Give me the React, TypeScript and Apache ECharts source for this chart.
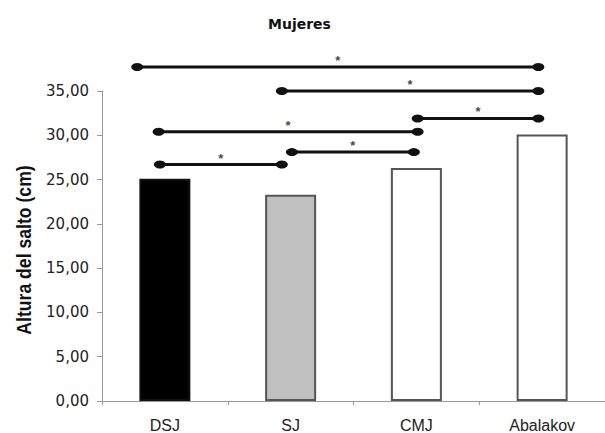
import React, { useEffect, useRef } from "react";
import * as echarts from "echarts";

const categories = ["DSJ", "SJ", "CMJ", "Abalakov"];
const values = [25.1, 23.3, 26.3, 30.1];
const barFills = ["#000000", "#c0c0c0", "#ffffff", "#ffffff"];
const barBorders = ["#111111", "#555555", "#555555", "#555555"];
const yTicks = [0, 5, 10, 15, 20, 25, 30, 35];
const yAxisTitle = "Altura del salto (cm)";
const chartTitle = "Mujeres";
// brackets: [xStart, xEnd, y] in category units / value units
const brackets: [number, number, number][] = [
  [-0.22, 2.97, 37.7],
  [0.93, 2.97, 35.0],
  [2.01, 2.97, 31.9],
  [-0.05, 2.01, 30.4],
  [1.01, 1.98, 28.1],
  [-0.04, 0.93, 26.7],
];

export default function App() {
  const ref = useRef<HTMLDivElement>(null);
  useEffect(() => {
    if (!ref.current) return;
    const chart = echarts.init(ref.current, null, { renderer: "svg" });
    const bracketSeries = brackets.map((b) => ({
      type: "line",
      xAxisIndex: 1,
      data: [
        [b[0], b[2]],
        [b[1], b[2]],
      ],
      symbol: "circle",
      symbolSize: [12, 8],
      clip: false,
      itemStyle: { color: "#111" },
      lineStyle: { color: "#111", width: 3 },
      z: 5,
    }));
    chart.setOption({
      animation: false,
      title: {
        text: chartTitle,
        left: 263,
        top: 12,
        textStyle: { fontFamily: "DejaVu Sans", fontSize: 14, fontWeight: "bold", color: "#111" },
      },
      graphic: [
        {
          type: "text",
          x: 23,
          y: 250,
          rotation: Math.PI / 2,
          scaleX: 0.84,
          style: {
            text: yAxisTitle,
            fontFamily: "Liberation Sans, Arial",
            fontSize: 21,
            fontWeight: "bold",
            fill: "#111",
            align: "center",
            verticalAlign: "middle",
          },
        },
      ],
      grid: { left: 102, right: -10, top: 91, bottom: 29 },
      xAxis: [
        {
          type: "category",
          data: categories,
          axisLine: { lineStyle: { color: "#999", width: 1 } },
          axisTick: { show: true, length: 4, lineStyle: { color: "#999" } },
          axisLabel: { fontFamily: "Liberation Sans, Arial", fontSize: 16, color: "#222", margin: 16 },
        },
        { type: "value", min: -0.5, max: 3.5, show: false },
      ],
      yAxis: {
        type: "value",
        min: 0,
        max: 35,
        interval: 5,
        axisLine: { show: true, onZero: false, lineStyle: { color: "#999", width: 1 } },
        axisTick: { show: true, length: 5, lineStyle: { color: "#999" } },
        splitLine: { show: false },
        axisLabel: {
          fontFamily: "DejaVu Sans",
          fontSize: 15,
          color: "#222",
          margin: 13,
          formatter: (v: number) => (yTicks.includes(v) ? v.toFixed(2).replace(".", ",") : ""),
        },
      },
      series: [
        {
          type: "bar",
          data: values.map((v, i) => ({
            value: v,
            itemStyle: { color: barFills[i], borderColor: barBorders[i], borderWidth: 2 },
          })),
          barWidth: 51,
        },
        ...bracketSeries,
        {
          type: "scatter",
          xAxisIndex: 1,
          symbolSize: 0,
          clip: false,
          data: brackets.map((b) => [(b[0] + b[1]) / 2, b[2]]),
          label: {
            show: true,
            formatter: "*",
            position: "top",
            distance: 0,
            fontSize: 13,
            fontWeight: "bold",
            color: "#111",
            fontFamily: "Liberation Sans, Arial",
          },
          z: 6,
        },
      ],
    });
    return () => chart.dispose();
  }, []);
  return <div ref={ref} style={{ width: 605, height: 433, position: "absolute", left: 0, top: 0 }} />;
}
